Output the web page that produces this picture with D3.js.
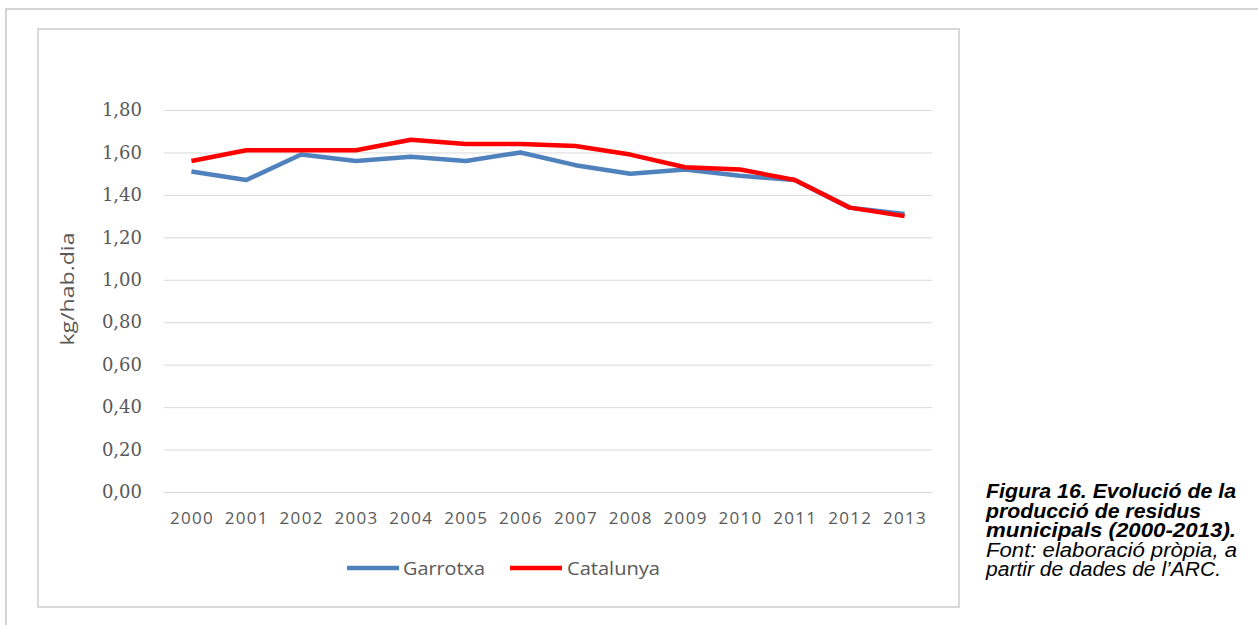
<!DOCTYPE html>
<html>
<head>
<meta charset="utf-8">
<script src="https://cdn.jsdelivr.net/npm/d3@7"></script>
<style>
  html, body { margin: 0; padding: 0; background: #fff; }
  svg { display: block; }
</style>
</head>
<body>
<svg width="1258" height="625"></svg>
<script>
var years = ['2000','2001','2002','2003','2004','2005','2006','2007','2008','2009','2010','2011','2012','2013'];
var garrotxa = [1.51, 1.47, 1.59, 1.56, 1.58, 1.56, 1.60, 1.54, 1.50, 1.52, 1.49, 1.47, 1.34, 1.31];
var catalunya = [1.56, 1.61, 1.61, 1.61, 1.66, 1.64, 1.64, 1.63, 1.59, 1.53, 1.52, 1.47, 1.34, 1.30];
var yTicks = [0, 0.2, 0.4, 0.6, 0.8, 1.0, 1.2, 1.4, 1.6, 1.8];
var seriesNames = ['Garrotxa', 'Catalunya'];
var captionLines = [
  {text: 'Figura 16. Evolució de la', bold: true, len: 250},
  {text: 'producció de residus', bold: true, len: 215},
  {text: 'municipals (2000-2013).', bold: true, len: 250},
  {text: 'Font: elaboració pròpia, a', bold: false, len: 251},
  {text: 'partir de dades de l\u2019ARC.', bold: false, len: 235}
];

var svg = d3.select('svg');
var grey = '#595959';
var colors = ['#4F81BD', '#FF0000'];

// frames
svg.append('rect')
    .attr('x', 6).attr('y', 9)
    .attr('width', 1270).attr('height', 640)
    .attr('fill', 'none').attr('stroke', '#d4d4d4').attr('stroke-width', 2);
svg.append('rect')
    .attr('x', 38).attr('y', 29)
    .attr('width', 921).attr('height', 578)
    .attr('fill', '#fff').attr('stroke', '#d9d9d9').attr('stroke-width', 2);

var x = d3.scalePoint().domain(years).range([164, 932]).padding(0.5);
var y = d3.scaleLinear().domain([0, 1.8]).range([492, 110]);

// gridlines + y labels
var yAxis = d3.axisLeft(y)
    .tickValues(yTicks)
    .tickSize(-(932 - 164))
    .tickPadding(22)
    .tickFormat(function (d) { return d3.format('.2f')(d).replace('.', ','); });

var gy = svg.append('g')
    .attr('transform', 'translate(164,0)')
    .call(yAxis);
gy.select('.domain').remove();
gy.selectAll('line').attr('stroke', '#d9d9d9').attr('stroke-width', 1);
gy.selectAll('text')
    .attr('fill', grey)
    .style('font-family', '"DejaVu Serif", serif')
    .style('font-size', '18px');

// x labels
var xAxis = d3.axisBottom(x).tickSize(0).tickPadding(20);
var gx = svg.append('g')
    .attr('transform', 'translate(0,492)')
    .call(xAxis);
gx.select('.domain').remove();
gx.selectAll('text')
    .attr('fill', grey)
    .style('font-family', '"Open Sans", sans-serif')
    .style('font-size', '17px')
    .style('letter-spacing', '1.3px');

// axis title
svg.append('text')
    .attr('transform', 'translate(74,289) rotate(-90)')
    .attr('text-anchor', 'middle')
    .attr('fill', grey)
    .attr('textLength', 113)
    .attr('lengthAdjust', 'spacingAndGlyphs')
    .style('font-family', '"Open Sans", sans-serif')
    .style('font-size', '18px')
    .text('kg/hab.dia');

// lines
var line = d3.line()
    .x(function (d, i) { return x(years[i]); })
    .y(function (d) { return y(d); });

[garrotxa, catalunya].forEach(function (s, i) {
    svg.append('path')
        .datum(s)
        .attr('d', line)
        .attr('fill', 'none')
        .attr('stroke', colors[i])
        .attr('stroke-width', 4.5)
        .attr('stroke-linejoin', 'round')
        .attr('stroke-linecap', 'butt');
});

// legend
var legend = [
  {x1: 347, x2: 399, tx: 403, len: 82},
  {x1: 510, x2: 562, tx: 567, len: 93}
];
legend.forEach(function (l, i) {
    svg.append('line')
        .attr('x1', l.x1).attr('x2', l.x2)
        .attr('y1', 568).attr('y2', 568)
        .attr('stroke', colors[i]).attr('stroke-width', 4.5);
    svg.append('text')
        .attr('x', l.tx).attr('y', 575)
        .attr('fill', grey)
        .attr('textLength', l.len)
        .attr('lengthAdjust', 'spacingAndGlyphs')
        .style('font-family', '"Open Sans", sans-serif')
        .style('font-size', '18px')
        .text(seriesNames[i]);
});

// caption
captionLines.forEach(function (c, i) {
    svg.append('text')
        .attr('x', 986).attr('y', 498 + i * 19.5)
        .attr('fill', '#000')
        .attr('textLength', c.len)
        .attr('lengthAdjust', 'spacingAndGlyphs')
        .style('font-family', '"Liberation Sans", Arial, sans-serif')
        .style('font-size', '19.5px')
        .style('font-style', 'italic')
        .style('font-weight', c.bold ? 'bold' : 'normal')
        .text(c.text);
});
</script>
</body>
</html>
